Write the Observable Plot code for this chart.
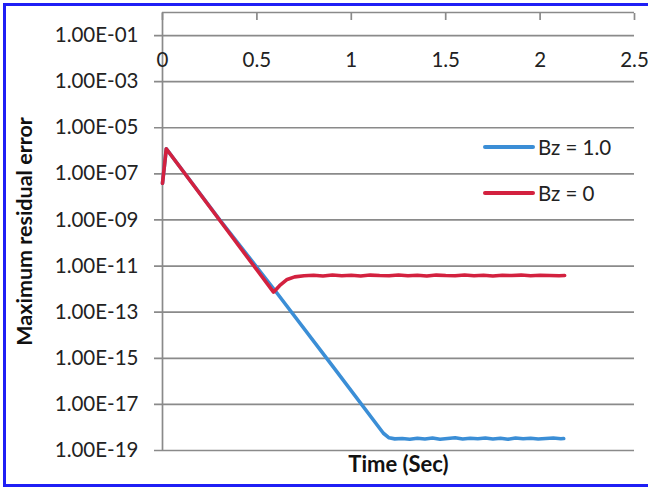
<!DOCTYPE html>
<html><head><meta charset="utf-8">
<script src="https://cdn.jsdelivr.net/npm/d3@7"></script>
<script src="https://cdn.jsdelivr.net/npm/@observablehq/plot@0.6"></script>
<style>
body{margin:0;background:#fff;}
#wrap{position:relative;width:648px;height:487px;overflow:hidden;font-family:Lato,sans-serif;}
#border{position:absolute;left:3px;top:3px;width:700px;height:484px;border:3px solid #1f1ff5;border-right:none;box-sizing:border-box;pointer-events:none;}
#legend{position:absolute;left:483px;top:133px;font-family:Lato,sans-serif;font-size:20.5px;color:#222;}
.item{display:flex;align-items:center;height:28px;margin-bottom:18px;}
.sw{width:52px;height:4px;border-radius:2px;margin-right:3px;}
</style></head><body><div id="wrap"><div id="border"></div><div id="legend"></div></div>
<script>
const xTickValues = [0, 0.5, 1, 1.5, 2, 2.5];
const xTickLabels = ["0", "0.5", "1", "1.5", "2", "2.5"];
const yTickValues = [1e-1, 1e-3, 1e-5, 1e-7, 1e-9, 1e-11, 1e-13, 1e-15, 1e-17, 1e-19];
const yTickLabels = ["1.00E-01", "1.00E-03", "1.00E-05", "1.00E-07", "1.00E-09", "1.00E-11", "1.00E-13", "1.00E-15", "1.00E-17", "1.00E-19"];
const xLabel = "Time (Sec)";
const yLabel = "Maximum residual error";
const seriesNames = ["Bz = 1.0", "Bz = 0"];
const seriesColors = ["#3b8ed6", "#d3213f"];

const blueTime = [0, 0.02, 0.3, 0.6, 0.9, 1.17, 1.2, 1.23, 1.27, 1.31, 1.35, 1.39, 1.43, 1.47, 1.51, 1.55, 1.59, 1.63, 1.67, 1.71, 1.75, 1.79, 1.83, 1.87, 1.91, 1.95, 1.99, 2.03, 2.07, 2.11, 2.125];
const blueError = [3.9e-8, 1.23e-6, 1.1e-9, 7.9e-13, 4.7e-16, 5.6e-19, 3.55e-19, 3.2e-19, 3.31e-19, 3.09e-19, 3.39e-19, 3.16e-19, 3.47e-19, 3.09e-19, 3.31e-19, 3.55e-19, 3.16e-19, 3.39e-19, 3.24e-19, 3.47e-19, 3.16e-19, 3.39e-19, 3.09e-19, 3.47e-19, 3.24e-19, 3.39e-19, 3.16e-19, 3.31e-19, 3.47e-19, 3.24e-19, 3.31e-19];

const redTime = [0, 0.02, 0.3, 0.588, 0.62, 0.66, 0.7, 0.75, 0.8, 0.85, 0.9, 0.95, 1.0, 1.05, 1.1, 1.15, 1.2, 1.25, 1.3, 1.35, 1.4, 1.45, 1.5, 1.55, 1.6, 1.65, 1.7, 1.75, 1.8, 1.85, 1.9, 1.95, 2.0, 2.05, 2.1, 2.13];
const redError = [3.9e-8, 1.23e-6, 1.05e-9, 7.4e-13, 1.41e-12, 2.63e-12, 3.39e-12, 3.8e-12, 3.98e-12, 3.72e-12, 4.07e-12, 3.8e-12, 3.98e-12, 3.72e-12, 4.07e-12, 3.89e-12, 3.8e-12, 4.07e-12, 3.8e-12, 3.98e-12, 3.72e-12, 4.07e-12, 3.89e-12, 3.8e-12, 4.07e-12, 3.8e-12, 3.98e-12, 3.72e-12, 3.98e-12, 3.89e-12, 4.07e-12, 3.8e-12, 3.98e-12, 3.89e-12, 3.8e-12, 3.89e-12];

const rows = [
  ...blueTime.map((t, i) => ({t, e: blueError[i], s: seriesNames[0]})),
  ...redTime.map((t, i) => ({t, e: redError[i], s: seriesNames[1]}))
];
const grid = "#8a8a8a";

const chart = Plot.plot({
  width: 648, height: 487,
  marginLeft: 162, marginRight: 14, marginTop: 12, marginBottom: 37,
  x: {domain: [0, 2.5]},
  y: {type: "log", domain: [1e-19, 1]},
  color: {domain: seriesNames, range: seriesColors},
  style: {fontFamily: "Lato, sans-serif", fontSize: "20px", color: "#222", background: "transparent"},
  marks: [
    Plot.ruleY(yTickValues, {stroke: grid, strokeWidth: 1.7, insetLeft: -8}),
    Plot.ruleY([1], {stroke: grid, strokeWidth: 1.7}),
    Plot.ruleX([0], {stroke: grid, strokeWidth: 1.7}),
    Plot.axisX({anchor: "top", ticks: xTickValues, tickSize: -7, tickFormat: () => "", stroke: grid, strokeWidth: 1.7, label: null}),
    Plot.text(xTickValues, {x: d => d, frameAnchor: "top", dy: 40, text: d => xTickLabels[xTickValues.indexOf(d)], fontSize: 20.5, fill: "#222"}),
    Plot.axisY({ticks: yTickValues, tickSize: 0, tickPadding: 24, tickFormat: d => yTickLabels[yTickValues.indexOf(d)], label: null, fontSize: 20.5, fill: "#222"}),
    Plot.line(rows, {x: "t", y: "e", z: "s", stroke: "s", strokeWidth: 3.6, strokeLinejoin: "round", strokeLinecap: "round"}),
    Plot.text([xLabel], {frameAnchor: "bottom", dy: 21, text: d => d, fontWeight: "bold", fontSize: 22, fill: "#111"}),
    Plot.text([yLabel], {frameAnchor: "left", textAnchor: "middle", dx: -137, rotate: -90, text: d => d, fontWeight: "bold", fontSize: 21.5, fill: "#111"})
  ]
});
document.getElementById("wrap").prepend(chart);

const legend = document.getElementById("legend");
seriesNames.forEach((name, i) => {
  const item = document.createElement("div");
  item.className = "item";
  const sw = document.createElement("div");
  sw.className = "sw";
  sw.style.background = seriesColors[i];
  const label = document.createElement("span");
  label.textContent = name;
  item.append(sw, label);
  legend.append(item);
});
</script>
</body></html>
